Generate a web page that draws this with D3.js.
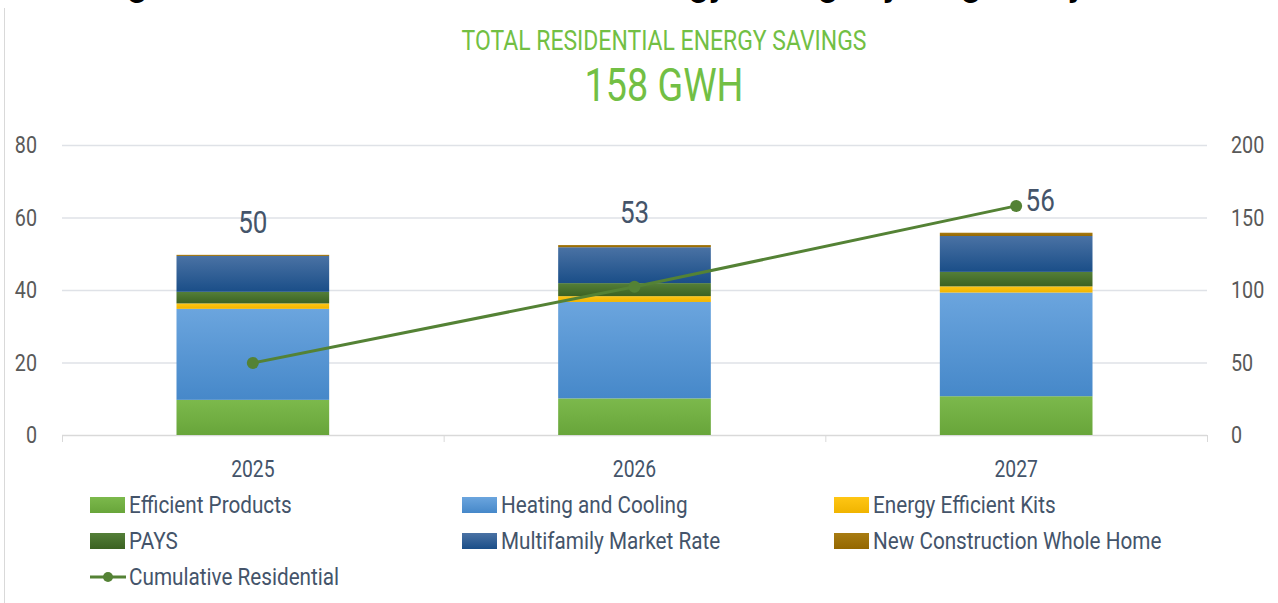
<!DOCTYPE html>
<meta charset="utf-8">
<script src="https://d3js.org/d3.v7.min.js"></script>
<style>
body { margin: 0; background: #fff; }
text { font-family: Roboto, "Liberation Sans", sans-serif; }
</style>
<svg width="1278" height="603"></svg>
<script>

// data
var years = ["2025", "2026", "2027"];
var series = ["Efficient Products", "Heating and Cooling", "Energy Efficient Kits",
              "PAYS", "Multifamily Market Rate", "New Construction Whole Home"];
var efficientProducts = [9.7, 10.1, 10.7];
var heatingCooling    = [25.1, 26.6, 28.6];
var kits              = [1.5, 1.6, 1.7];
var pays              = [3.2, 3.6, 4.0];
var multifamily       = [9.9, 9.9, 9.9];
var newConstruction   = [0.3, 0.6, 0.9];
var totalLabels = ["50", "53", "56"];
var cumulative  = [49.7, 102.2, 158.0];
var leftTicks  = [0, 20, 40, 60, 80];
var rightTicks = [0, 50, 100, 150, 200];

var colors = [
  ["#7cb94c", "#68a53a"],
  ["#6ba5de", "#4688c9"],
  ["#ffc614", "#f0b400"],
  ["#547f38", "#3c6222"],
  ["#4a72a4", "#1a4e88"],
  ["#a87c12", "#946700"]
];
var lineColor = "#548235";
var SX = 0.84; // condensed look

var svg = d3.select("svg");
var mLeft = 62, mRight = 1207, mTop = 145, mBottom = 435;

var x = d3.scaleBand().domain(years).range([mLeft, mRight]);
var y = d3.scaleLinear().domain([0, 80]).range([mBottom, mTop]);
var y2 = d3.scaleLinear().domain([0, 200]).range([mBottom, mTop]);

function label(g, str, px, py, size, anchor, color, sx) {
  return g.append("text")
    .attr("transform", "translate(" + px + "," + py + ") scale(" + (sx || SX) + ",1)")
    .attr("text-anchor", anchor)
    .attr("dy", "0.35em")
    .attr("font-size", size)
    .attr("fill", color)
    .text(str);
}

// gradients
var defs = svg.append("defs");
colors.forEach(function(c, i) {
  var gr = defs.append("linearGradient").attr("id", "g" + i)
    .attr("x1", 0).attr("y1", 0).attr("x2", 0).attr("y2", 1);
  gr.append("stop").attr("offset", "0%").attr("stop-color", c[0]);
  gr.append("stop").attr("offset", "100%").attr("stop-color", c[1]);
});

// cropped heading at the very top
svg.append("text")
  .attr("x", 100).attr("y", -4)
  .attr("font-family", "Liberation Sans, Arial, sans-serif")
  .attr("font-weight", "bold")
  .attr("font-size", 34)
  .attr("fill", "#000")
  .text("Figure 5: Total Annual Residential Energy Savings by Program by Year");

// frame line at left
svg.append("line").attr("x1", 4.5).attr("x2", 4.5).attr("y1", 8).attr("y2", 603)
  .attr("stroke", "#d9d9d9");

// headline
label(svg, "TOTAL RESIDENTIAL ENERGY SAVINGS", 664, 40, 28, "middle", "#72bf44", 0.82);
label(svg, "158 GWH", 664, 85, 46, "middle", "#72bf44", 0.82);

// gridlines
svg.append("g").selectAll("line").data(leftTicks.slice(1)).enter().append("line")
  .attr("x1", mLeft).attr("x2", mRight)
  .attr("y1", function(d) { return y(d) + 0.5; })
  .attr("y2", function(d) { return y(d) + 0.5; })
  .attr("stroke", "#dfe2e7").attr("stroke-width", 1.5);

// x axis baseline + ticks between categories
svg.append("line").attr("x1", mLeft).attr("x2", mRight)
  .attr("y1", mBottom + 0.5).attr("y2", mBottom + 0.5).attr("stroke", "#d9d9d9").attr("stroke-width", 1.5);
var bounds = years.map(function(d) { return x(d); }).concat([x(years[2]) + x.bandwidth()]);
svg.append("g").selectAll("line").data(bounds).enter().append("line")
  .attr("x1", function(d) { return d + 0.5; }).attr("x2", function(d) { return d + 0.5; })
  .attr("y1", mBottom).attr("y2", mBottom + 7)
  .attr("stroke", "#d9d9d9");

// tick labels
var ax = svg.append("g");
leftTicks.forEach(function(t) { label(ax, t, 37, y(t), 23.5, "end", "#595959"); });
rightTicks.forEach(function(t) { label(ax, t, 1231, y2(t), 23.5, "start", "#595959"); });
years.forEach(function(yr) { label(ax, yr, x(yr) + x.bandwidth() / 2, 469, 23, "middle", "#44546a"); });

// stacked bars
var table = years.map(function(yr, i) {
  var row = { year: yr };
  row[series[0]] = efficientProducts[i];
  row[series[1]] = heatingCooling[i];
  row[series[2]] = kits[i];
  row[series[3]] = pays[i];
  row[series[4]] = multifamily[i];
  row[series[5]] = newConstruction[i];
  return row;
});
var stacked = d3.stack().keys(series)(table);
var barW = x.bandwidth() * 0.4;

svg.append("g").selectAll("g").data(stacked).enter().append("g")
    .attr("fill", function(d, i) { return "url(#g" + i + ")"; })
  .selectAll("rect").data(function(d) { return d; }).enter().append("rect")
    .attr("x", function(d) { return x(d.data.year) + (x.bandwidth() - barW) / 2; })
    .attr("width", barW)
    .attr("y", function(d) { return y(d[1]); })
    .attr("height", function(d) { return y(d[0]) - y(d[1]); });

// total labels
var tops = stacked[stacked.length - 1];
tops.forEach(function(d, i) {
  var cx = x(d.data.year) + x.bandwidth() / 2 + (i == 2 ? 24 : 0);
  label(svg, totalLabels[i], cx, y(d[1]) - 33, 31, "middle", "#44546a");
});

// cumulative line
var line = d3.line()
  .x(function(d, i) { return x(years[i]) + x.bandwidth() / 2; })
  .y(function(d) { return y2(d); });
svg.append("path").datum(cumulative)
  .attr("d", line).attr("fill", "none")
  .attr("stroke", lineColor).attr("stroke-width", 3);
svg.append("g").selectAll("circle").data(cumulative).enter().append("circle")
  .attr("cx", function(d, i) { return x(years[i]) + x.bandwidth() / 2; })
  .attr("cy", function(d) { return y2(d); })
  .attr("r", 6).attr("fill", lineColor);

// legend
var lg = svg.append("g");
series.concat(["Cumulative Residential"]).forEach(function(s, i) {
  var lx = 90 + (i % 3) * 372, ly = 505 + Math.floor(i / 3) * 36;
  if (i < series.length) {
    lg.append("rect").attr("x", lx).attr("y", ly - 8).attr("width", 35).attr("height", 16)
      .attr("fill", "url(#g" + i + ")");
  } else {
    lg.append("line").attr("x1", lx).attr("x2", lx + 36).attr("y1", ly).attr("y2", ly)
      .attr("stroke", lineColor).attr("stroke-width", 3);
    lg.append("circle").attr("cx", lx + 18).attr("cy", ly).attr("r", 5).attr("fill", lineColor);
  }
  label(lg, s, lx + 39, ly, 23, "start", "#44546a", 0.9);
});

</script>
